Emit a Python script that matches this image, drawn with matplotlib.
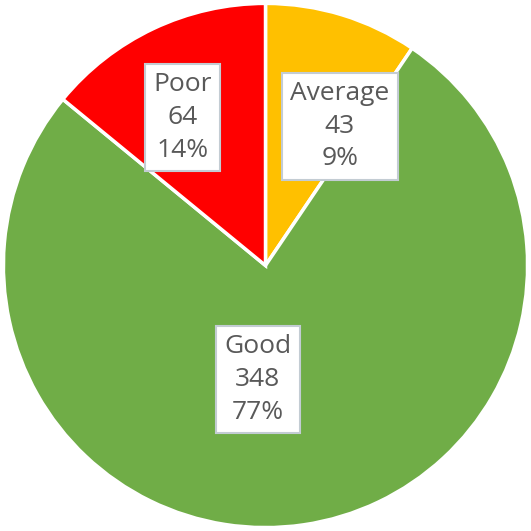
import matplotlib
matplotlib.use("Agg")
import matplotlib.pyplot as plt

labels = ["Average", "Good", "Poor"]
values = [43, 348, 64]
percent_labels = ["9%", "77%", "14%"]
colors = ["#FFC000", "#70AD47", "#FF0000"]
label_pos = [(0.284, 0.532), (-0.029, -0.435), (-0.317, 0.565)]

fig = plt.figure(figsize=(5.31, 5.31), dpi=100)
ax = fig.add_axes([0, 0, 1, 1])
ax.pie(values, colors=colors, startangle=90, counterclock=False,
       wedgeprops=dict(edgecolor="white", linewidth=2.5), radius=1.0)
for lab, v, p, (x, y) in zip(labels, values, percent_labels, label_pos):
    ax.text(x, y, f"{lab}\n{v}\n{p}", ha="center", va="center",
            fontsize=19, family="Open Sans", color="#595959", linespacing=1.4,
            bbox=dict(boxstyle="square,pad=0.32", facecolor="white", edgecolor="#C3CCD3", linewidth=1.5))
ax.set_xlim(-1.013, 1.013)
ax.set_ylim(-1.013, 1.013)
ax.set_aspect("equal")
ax.axis("off")
fig.savefig("out.png", dpi=100, facecolor="white")
